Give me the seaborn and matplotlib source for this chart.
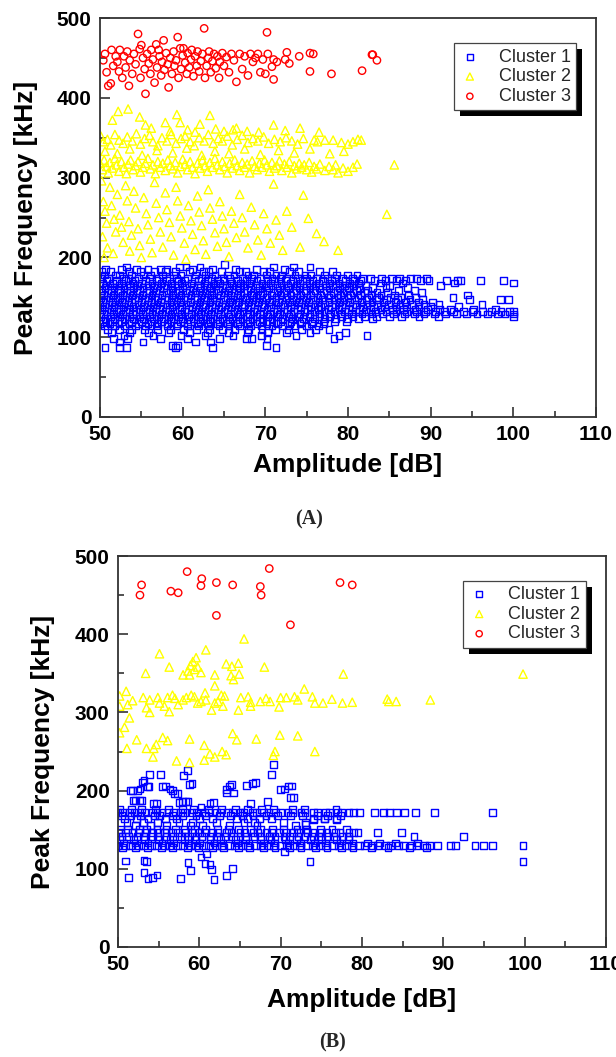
import matplotlib
matplotlib.use("Agg")
import matplotlib.pyplot as plt
import pandas as pd
import seaborn as sns
from matplotlib.patches import Rectangle
from matplotlib.ticker import MultipleLocator

# ---------------------------------------------------------------- data
CLUSTERS = ["Cluster 1", "Cluster 2", "Cluster 3"]
X_TICKS = [50, 60, 70, 80, 90, 100, 110]
Y_TICKS = [0, 100, 200, 300, 400, 500]
PANEL_LABELS = ["(A)", "(B)"]

# Panel A, cluster 1: (peak frequency kHz, [amplitudes dB])
A_C1_ROWS = [
    (191, [65.1]),
    (188, [53.2, 59.6, 60.4, 62.1, 71.0, 73.4, 75.4]),
    (185, [50.7, 52.6, 54.4, 55.8, 57.3, 58.1, 61.2, 63.6, 66.4, 68.9, 72.3]),
    (182, [50.2, 51.3, 53.5, 54.9, 56.6, 57.9, 59.1, 60.8, 62.5, 63.1, 64.7, 66.9, 67.6, 69.8, 70.5, 72.9, 74.0, 76.6, 78.1]),
    (178, [50.5, 51.9, 52.4, 53.8, 55.3, 56.1, 57.6, 58.9, 59.8, 61.6, 62.8, 63.9, 65.4, 66.2, 67.9, 68.6, 70.1, 71.3, 72.0, 73.6, 74.8, 75.5, 77.2, 78.6, 79.9, 81.1]),
    (174, [50.1, 51.0, 52.8, 53.4, 54.7, 56.0, 57.1, 58.4, 59.3, 60.6, 61.4, 62.3, 63.5, 64.9, 65.7, 67.2, 68.3, 69.4, 70.8, 71.8, 72.6, 73.9, 75.0, 76.2, 77.5, 78.4, 79.3, 80.5, 81.8, 82.7, 84.1, 85.3, 86.2, 87.6, 88.3, 89.5]),
    (171, [50.8, 52.0, 53.1, 54.2, 55.5, 56.8, 58.0, 59.5, 60.2, 61.9, 63.0, 64.2, 65.0, 66.6, 67.7, 69.0, 70.3, 71.1, 72.4, 73.3, 74.5, 75.7, 76.9, 78.0, 79.7, 80.8, 81.5, 83.2, 84.5, 85.9, 87.0, 88.8, 89.8, 91.9, 93.2, 93.6, 96.0, 98.8]),
    (168, [50.3, 51.5, 52.6, 54.0, 55.0, 56.3, 57.4, 58.6, 59.9, 61.1, 62.6, 63.8, 64.5, 65.9, 67.0, 68.1, 69.6, 70.6, 71.9, 73.0, 74.2, 75.3, 76.4, 77.8, 78.9, 80.2, 81.3, 83.9, 86.6, 92.9, 100.0]),
    (165, [50.0, 51.2, 52.3, 53.6, 54.5, 55.8, 57.0, 58.2, 59.4, 60.5, 61.8, 62.9, 64.0, 65.3, 66.5, 67.5, 68.8, 70.0, 71.4, 72.7, 73.8, 75.0, 76.1, 77.3, 78.5, 79.6, 80.7, 82.1, 85.0, 91.2]),
    (162, [50.6, 51.7, 52.9, 54.1, 55.2, 56.5, 57.7, 58.7, 60.0, 61.3, 62.2, 63.4, 64.8, 65.6, 66.9, 68.2, 69.3, 70.4, 71.7, 72.8, 74.1, 75.4, 76.6, 77.7, 79.0, 80.1, 81.4, 83.0, 84.6, 87.2]),
    (159, [50.2, 51.4, 52.5, 53.7, 54.8, 56.0, 57.2, 58.5, 59.6, 60.8, 62.0, 63.2, 64.3, 65.5, 66.7, 67.8, 69.1, 70.2, 71.5, 72.5, 73.7, 74.9, 76.0, 77.4, 78.7, 79.8, 81.0, 82.4, 86.1, 88.0]),
    (156, [50.9, 52.1, 53.2, 54.4, 55.6, 56.7, 58.0, 59.1, 60.3, 61.6, 62.7, 63.7, 65.1, 66.2, 67.4, 68.5, 69.7, 71.0, 72.2, 73.4, 74.6, 75.8, 77.0, 78.2, 79.4, 80.6, 82.0, 83.5, 84.8, 88.9]),
    (153, [50.4, 51.6, 52.7, 53.9, 55.1, 56.3, 57.5, 58.8, 59.8, 61.0, 62.3, 63.5, 64.6, 65.8, 67.0, 68.3, 69.4, 70.7, 71.9, 73.1, 74.3, 75.5, 76.7, 77.9, 79.1, 80.3, 81.5, 82.8, 84.0, 85.6, 87.3, 94.5]),
    (150, [50.1, 51.3, 52.4, 53.5, 54.7, 55.9, 57.0, 58.3, 59.5, 60.6, 61.8, 63.0, 64.1, 65.4, 66.6, 67.7, 68.9, 70.1, 71.3, 72.6, 73.8, 75.0, 76.3, 77.6, 78.8, 80.0, 81.2, 82.5, 83.7, 85.1, 86.4, 88.2, 92.7]),
    (147, [50.7, 51.9, 53.0, 54.2, 55.4, 56.6, 57.8, 58.9, 60.1, 61.4, 62.5, 63.6, 64.9, 66.0, 67.2, 68.4, 69.6, 70.8, 72.0, 73.3, 74.5, 75.7, 76.9, 78.3, 79.5, 80.8, 82.2, 83.4, 84.7, 86.0, 87.5, 89.0, 94.7, 98.4, 99.4]),
    (144, [50.3, 51.5, 52.6, 53.8, 55.0, 56.2, 57.3, 58.6, 59.7, 60.9, 62.1, 63.3, 64.4, 65.7, 66.8, 68.0, 69.2, 70.5, 71.6, 72.9, 74.0, 75.2, 76.5, 77.7, 79.0, 80.2, 81.6, 82.9, 84.3, 85.7, 87.0, 88.5, 90.2]),
    (141, [50.0, 51.1, 52.2, 53.4, 54.6, 55.7, 56.9, 58.1, 59.2, 60.4, 61.7, 62.8, 64.0, 65.2, 66.4, 67.5, 68.7, 69.9, 71.2, 72.3, 73.5, 74.8, 76.0, 77.2, 78.5, 79.7, 81.0, 82.3, 83.6, 84.9, 86.3, 87.7, 89.2, 91.0, 96.2]),
    (138, [50.5, 51.7, 52.8, 54.0, 55.3, 56.4, 57.6, 58.7, 59.9, 61.2, 62.4, 63.5, 64.7, 65.9, 67.1, 68.2, 69.5, 70.6, 71.8, 73.0, 74.3, 75.5, 76.7, 78.0, 79.2, 80.5, 81.8, 83.1, 84.4, 85.8, 87.1, 88.6, 90.0, 93.4]),
    (135, [50.2, 51.4, 52.5, 53.6, 54.9, 56.0, 57.2, 58.4, 59.6, 60.7, 61.9, 63.1, 64.3, 65.4, 66.6, 67.9, 69.0, 70.2, 71.5, 72.7, 73.9, 75.1, 76.4, 77.6, 78.9, 80.1, 81.4, 82.7, 84.0, 85.4, 86.7, 88.1, 89.6, 91.1, 92.4, 95.2, 97.8]),
    (132, [50.8, 52.0, 53.1, 54.3, 55.5, 56.7, 57.9, 59.0, 60.2, 61.5, 62.6, 63.8, 65.0, 66.2, 67.3, 68.6, 69.8, 71.0, 72.2, 73.4, 74.7, 75.9, 77.1, 78.4, 79.6, 80.9, 82.1, 83.3, 84.6, 85.8, 87.1, 88.3, 89.4, 90.6, 91.7, 92.8, 94.0, 95.1, 96.3, 97.4, 98.5, 99.5, 100.0]),
    (129, [50.4, 51.6, 52.7, 53.9, 55.1, 56.3, 57.4, 58.6, 59.8, 61.0, 62.2, 63.4, 64.6, 65.8, 66.9, 68.1, 69.3, 70.5, 71.7, 73.0, 74.2, 75.4, 76.6, 77.9, 79.1, 80.4, 81.7, 82.9, 84.2, 85.5, 86.8, 88.0, 89.2, 90.5, 91.8, 93.1, 94.3, 95.6, 96.9, 98.1, 99.0, 100.0]),
    (126, [50.1, 51.3, 52.4, 53.6, 54.8, 56.0, 57.1, 58.3, 59.5, 60.7, 61.9, 63.0, 64.2, 65.5, 66.7, 67.8, 69.0, 70.3, 71.5, 72.8, 74.0, 75.3, 76.5, 77.8, 79.2, 80.6, 82.0, 83.4, 85.0, 86.5, 88.6, 90.9, 100.0]),
    (123, [50.6, 51.8, 53.0, 54.1, 55.3, 56.5, 57.7, 58.9, 60.0, 61.3, 62.4, 63.6, 64.8, 66.0, 67.2, 68.4, 69.6, 70.8, 72.1, 73.3, 74.6, 75.9, 77.2, 78.5, 79.9, 81.3, 83.0]),
    (120, [50.3, 51.5, 52.6, 53.8, 55.0, 56.2, 57.4, 58.6, 59.7, 60.9, 62.1, 63.3, 64.5, 65.7, 66.9, 68.1, 69.3, 70.5, 71.8, 73.1, 74.4, 75.7, 77.1, 78.4, 79.8]),
    (117, [50.0, 51.2, 52.3, 53.5, 54.7, 55.8, 57.0, 58.2, 59.4, 60.6, 61.8, 63.0, 64.2, 65.4, 66.6, 67.8, 69.0, 70.2, 71.5, 72.9, 74.2, 75.6, 77.0]),
    (114, [50.5, 51.8, 53.0, 54.3, 55.5, 56.8, 58.1, 59.3, 60.6, 61.9, 63.1, 64.4, 65.6, 66.9, 68.2, 69.5, 70.8, 72.1, 73.5, 75.0, 76.4]),
    (110, [50.9, 52.4, 53.8, 55.4, 57.0, 58.5, 60.1, 61.7, 63.2, 64.8, 66.3, 68.0, 69.6, 71.2, 72.8, 74.4, 76.1, 77.7]),
    (106, [51.4, 53.6, 55.9, 58.3, 60.8, 63.0, 65.5, 67.8, 70.3, 72.6, 75.4, 79.7]),
    (102, [52.9, 56.4, 59.8, 62.7, 66.1, 69.5, 73.7, 78.9, 82.3]),
    (98, [51.6, 53.3, 57.3, 60.6, 64.5, 67.7, 68.3, 70.2, 78.3]),
    (94, [52.4, 55.2, 61.6, 63.4]),
    (90, [58.8, 59.4, 70.1]),
    (87, [50.6, 52.4, 53.2, 59.1, 63.6, 71.3]),
]

# Panel A, cluster 2: (amplitude dB, peak frequency kHz)
A_C2 = [
    (51.5, 372), (52.2, 383), (53.4, 386), (54.8, 376), (55.5, 366), (56.2, 362), (57.9, 369), (58.5, 358),
    (59.3, 379), (59.7, 369), (60.6, 360), (61.5, 357), (62.1, 367), (63.3, 378), (64.0, 361), (65.0, 358),
    (66.1, 360), (66.5, 362), (67.8, 358), (69.2, 357), (71.0, 366), (72.4, 359), (74.2, 362), (76.5, 357),
    (50.1, 352), (50.4, 345), (50.9, 348), (51.3, 341), (51.8, 354), (52.3, 347), (52.8, 343), (53.3, 351),
    (53.9, 346), (54.4, 355), (54.9, 342), (55.4, 349), (56.0, 353), (56.4, 345), (57.0, 340), (57.5, 350),
    (58.1, 346), (58.6, 354), (59.2, 343), (59.8, 349), (60.3, 352), (60.9, 345), (61.4, 340), (62.0, 350),
    (62.6, 346), (63.1, 354), (63.7, 343), (64.3, 349), (64.8, 346), (65.4, 352), (66.0, 341), (66.6, 348),
    (67.2, 353), (67.9, 344), (68.5, 349), (69.1, 346), (69.8, 351), (70.4, 343), (71.1, 348), (71.8, 345),
    (72.5, 350), (73.2, 346), (73.9, 342), (74.6, 349), (75.9, 347), (76.3, 345), (77.2, 347), (78.2, 347),
    (79.2, 344), (80.0, 342), (80.6, 345), (81.2, 348), (81.6, 347),
    (50.6, 333), (52.1, 330), (53.6, 336), (55.1, 328), (56.9, 334), (58.8, 331), (60.5, 337), (62.3, 328),
    (63.9, 333), (65.6, 330), (67.5, 336), (69.4, 329), (71.6, 334), (73.5, 331), (75.4, 336), (77.8, 330),
    (79.5, 333),
    (50.0, 318), (50.3, 310), (50.5, 322), (50.8, 314), (51.0, 306), (51.2, 319), (51.5, 312), (51.8, 324),
    (52.0, 316), (52.3, 308), (52.6, 320), (52.9, 313), (53.2, 305), (53.4, 317), (53.7, 322), (54.0, 310),
    (54.3, 315), (54.6, 320), (54.9, 307), (55.2, 313), (55.5, 318), (55.8, 324), (56.1, 311), (56.4, 316),
    (56.7, 305), (57.0, 320), (57.3, 313), (57.6, 318), (57.9, 309), (58.2, 322), (58.5, 315), (58.8, 311),
    (59.1, 319), (59.4, 306), (59.7, 314), (60.0, 323), (60.3, 317), (60.6, 310), (60.9, 320), (61.2, 313),
    (61.5, 305), (61.8, 318), (62.1, 312), (62.4, 322), (62.7, 315), (63.0, 308), (63.3, 319), (63.6, 313),
    (63.9, 324), (64.2, 316), (64.5, 310), (64.8, 320), (65.1, 314), (65.4, 306), (65.7, 318), (66.0, 312),
    (66.3, 322), (66.6, 315), (66.9, 309), (67.2, 319), (67.5, 313), (67.8, 317), (68.1, 306), (68.4, 321),
    (68.7, 314), (69.0, 310), (69.3, 318), (69.6, 313), (69.9, 322), (70.2, 316), (70.5, 308), (70.8, 319),
    (71.1, 312), (71.4, 315), (71.7, 321), (72.0, 309), (72.3, 317), (72.6, 313), (72.9, 320), (73.2, 306),
    (73.5, 315), (73.8, 311), (74.1, 318), (74.4, 313), (74.7, 316), (75.0, 310), (75.3, 319), (75.6, 307),
    (75.9, 314), (76.2, 311), (76.6, 317), (77.2, 309), (77.7, 314), (78.2, 310), (78.5, 316), (78.8, 306),
    (79.4, 312), (80.0, 308), (80.6, 313), (81.1, 317), (85.6, 316),
    (50.2, 296), (50.4, 270), (50.6, 258), (50.8, 243), (50.3, 226), (50.9, 212), (50.5, 200), (51.2, 288),
    (51.4, 265), (51.7, 248), (51.9, 232), (51.6, 205), (52.1, 279), (52.4, 253), (52.6, 238), (52.8, 219),
    (53.1, 290), (53.3, 271), (53.5, 245), (53.8, 228), (53.6, 208), (54.1, 283), (54.3, 262), (54.6, 236),
    (54.8, 215), (55.0, 200), (55.3, 275), (55.6, 255), (55.8, 241), (56.1, 223), (56.3, 206), (56.6, 294),
    (56.8, 268), (57.1, 250), (57.3, 232), (57.6, 213), (57.9, 281), (58.1, 260), (58.4, 244), (58.6, 226),
    (58.9, 203), (59.2, 288), (59.4, 271), (59.7, 252), (59.9, 237), (60.2, 218), (60.4, 198), (60.7, 265),
    (61.0, 246), (61.2, 229), (61.5, 210), (61.8, 277), (62.0, 257), (62.3, 240), (62.5, 221), (62.8, 204),
    (63.1, 285), (63.3, 262), (63.6, 248), (63.9, 231), (64.2, 214), (64.5, 270), (64.8, 252), (65.0, 236),
    (65.3, 219), (65.6, 201), (65.9, 258), (66.2, 243), (66.5, 225), (66.9, 279), (67.2, 250), (67.5, 232),
    (67.9, 212), (68.3, 263), (68.7, 241), (69.1, 222), (69.5, 203), (69.8, 255), (70.2, 236), (70.6, 218),
    (71.0, 292), (71.3, 247), (71.7, 228), (72.1, 209), (72.6, 258), (73.2, 238), (74.2, 213), (74.6, 278),
    (75.2, 249), (76.2, 230), (77.1, 220), (78.8, 209), (84.7, 254),
]

# Panel A, cluster 3: (amplitude dB, peak frequency kHz)
A_C3 = [
    (50.4, 447), (50.6, 455), (50.8, 432), (51.0, 415), (51.3, 418), (51.4, 460), (51.6, 440), (51.9, 452),
    (52.1, 445), (52.3, 433), (52.4, 460), (52.7, 425), (52.9, 452), (53.1, 438), (53.3, 458), (53.5, 415),
    (53.6, 447), (53.9, 430), (54.1, 455), (54.3, 442), (54.6, 480), (54.8, 461), (54.9, 425), (55.0, 466),
    (55.2, 450), (55.4, 436), (55.5, 405), (55.7, 455), (55.9, 443), (56.1, 430), (56.2, 460), (56.4, 448),
    (56.6, 419), (56.8, 467), (56.9, 438), (57.1, 460), (57.2, 452), (57.4, 428), (57.5, 445), (57.7, 472),
    (57.8, 435), (58.0, 456), (58.2, 442), (58.3, 413), (58.5, 450), (58.7, 430), (58.9, 458), (59.0, 440),
    (59.2, 447), (59.4, 476), (59.5, 425), (59.7, 462), (59.8, 436), (60.0, 453), (60.1, 462), (60.3, 444),
    (60.5, 430), (60.6, 456), (60.8, 438), (61.0, 448), (61.1, 460), (61.3, 427), (61.5, 452), (61.7, 440),
    (61.8, 458), (62.0, 433), (62.2, 446), (62.4, 455), (62.6, 487), (62.7, 425), (62.9, 440), (63.1, 450),
    (63.2, 458), (63.4, 432), (63.6, 446), (63.8, 455), (64.0, 437), (64.2, 452), (64.4, 425), (64.5, 445),
    (64.8, 456), (65.0, 440), (65.3, 451), (65.6, 432), (65.9, 455), (66.2, 447), (66.5, 420), (66.9, 455),
    (67.2, 436), (67.5, 452), (67.9, 428), (68.2, 455), (68.5, 445), (68.8, 450), (69.1, 455), (69.4, 432),
    (69.7, 448), (70.0, 430), (70.2, 482), (70.3, 455), (70.8, 439), (71.0, 448), (71.0, 423), (71.4, 445),
    (72.4, 448), (72.6, 457), (72.9, 443), (74.1, 452), (75.4, 456), (75.8, 455), (75.4, 433), (78.0, 430),
    (81.7, 434), (82.9, 454), (83.0, 454), (83.5, 447),
]

# Panel B, cluster 1: dense rows (peak frequency kHz, [amplitudes dB])
B_C1_ROWS = [
    (176, [50.2, 51.7, 52.9, 54.6, 56.2, 57.9, 59.3, 61.1, 62.7, 64.4, 65.9, 67.6, 69.1, 71.5, 72.9, 76.8]),
    (172, [50.0, 50.6, 51.4, 52.0, 52.7, 53.3, 54.2, 54.8, 55.4, 56.2, 56.8, 57.7, 58.2, 59.1, 59.7, 60.6, 61.1,
           62.1, 62.6, 63.5, 64.1, 65.0, 65.5, 66.5, 67.0, 67.9, 68.5, 69.4, 70.0, 70.9, 71.5, 72.5, 73.0, 74.0,
           74.5, 75.5, 76.0, 77.0, 77.5, 78.4, 79.0, 79.7, 81.5, 82.6, 83.4, 84.2, 85.2, 86.6, 88.9, 96.0]),
    (168, [50.4, 51.6, 52.8, 54.5, 55.1, 56.7, 57.9, 59.6, 60.8, 62.5, 63.8, 65.3, 66.6, 68.2, 69.6, 71.2, 72.7, 74.5, 75.8, 77.4]),
    (164, [50.8, 52.3, 53.7, 55.8, 57.2, 60.0, 61.6, 64.6, 65.9, 67.4, 68.9, 74.0, 75.4, 76.9]),
    (159, [51.1, 53.1, 54.9, 57.5, 59.2, 62.1, 65.5, 66.8, 70.3, 73.1]),
    (155, [52.2, 54.0, 56.0, 58.9, 60.4, 63.7, 67.1, 71.8]),
    (150, [50.3, 51.2, 52.6, 53.5, 54.8, 55.9, 57.1, 58.2, 59.4, 60.8, 62.2, 63.6, 64.8, 66.3, 67.5, 69.0, 70.3,
           72.0, 73.2, 74.9, 76.3, 78.1]),
    (146, [50.1, 50.9, 51.8, 52.5, 53.4, 54.1, 55.1, 55.7, 56.7, 57.3, 58.3, 59.0, 60.0, 60.6, 61.6, 62.3, 63.3,
           63.9, 65.0, 65.6, 66.6, 67.2, 68.3, 68.9, 69.9, 70.6, 71.6, 72.2, 73.3, 73.9, 75.0, 75.6, 76.7, 77.3,
           78.4, 79.0, 79.5, 81.9, 84.9]),
    (141, [50.5, 51.3, 52.4, 53.1, 54.2, 54.9, 56.0, 56.7, 57.8, 58.5, 59.6, 60.3, 61.4, 62.1, 63.2, 63.9, 65.0,
           65.7, 66.8, 67.5, 68.6, 69.3, 70.4, 71.1, 72.2, 72.9, 74.0, 74.7, 75.8, 76.5, 77.6, 78.3, 86.4, 92.5]),
    (137, [50.2, 51.9, 53.3, 55.0, 56.4, 58.2, 59.5, 61.3, 62.6, 64.4, 65.7, 67.5, 68.8, 70.6, 71.9, 73.7, 75.0, 76.9, 78.3]),
    (133, [50.7, 52.1, 53.7, 55.4, 56.8, 58.6, 60.0, 61.8, 62.9, 64.7, 66.1, 67.9, 69.2, 70.9, 72.4, 74.2, 75.5,
           77.3, 78.9, 80.7, 82.2, 84.1, 86.8]),
    (130, [50.0, 50.9, 51.5, 52.5, 53.1, 54.1, 54.7, 55.7, 56.3, 57.3, 57.9, 58.9, 59.5, 60.5, 61.1, 62.1, 62.7,
           63.7, 64.3, 65.3, 65.9, 66.9, 67.5, 68.5, 69.1, 70.1, 70.7, 71.7, 72.3, 73.3, 73.9, 74.9, 75.5, 76.5,
           77.1, 78.1, 78.7, 79.7, 80.3, 81.3, 81.9, 82.9, 83.5, 84.5, 85.1, 86.1, 86.7, 87.7, 88.3, 89.3, 90.9,
           91.5, 93.9, 94.9, 96.0, 99.8]),
    (127, [50.6, 52.2, 53.6, 55.3, 56.7, 58.5, 59.9, 61.6, 63.0, 64.8, 66.2, 67.9, 69.3, 71.1, 72.5, 74.3, 75.7,
           77.5, 78.9, 81.2, 83.2, 85.8, 87.9]),
]

# Panel B, cluster 1: scattered points (amplitude dB, peak frequency kHz)
B_C1_EXTRA = [
    (51.5, 200), (51.8, 200), (52.4, 200), (52.7, 202), (53.0, 211), (53.2, 213), (53.6, 205), (53.8, 205),
    (53.9, 221), (55.2, 221), (55.5, 205), (55.8, 206), (56.4, 202), (56.7, 200), (56.9, 196), (57.3, 196),
    (58.1, 219), (58.5, 226), (58.8, 208), (59.1, 209), (63.3, 201), (63.7, 206), (63.3, 197), (64.0, 208),
    (64.2, 197), (65.8, 207), (66.5, 209), (66.9, 210), (68.9, 221), (69.1, 233), (70.0, 201), (70.5, 202),
    (71.0, 206), (71.3, 206), (71.2, 191), (71.6, 191), (51.9, 187), (52.2, 187), (52.6, 187), (52.9, 187),
    (54.4, 183), (54.7, 183), (57.5, 185), (57.9, 186), (58.3, 186), (58.6, 186), (60.2, 179), (61.3, 184),
    (61.7, 185), (66.3, 183), (68.4, 186), (74.0, 163), (75.4, 164), (76.9, 163), (73.1, 157),
    (50.9, 110), (51.3, 89), (53.2, 111), (53.5, 109), (53.2, 95), (53.7, 88), (54.2, 89), (54.8, 92),
    (57.7, 88), (58.6, 108), (58.9, 98), (60.2, 115), (60.9, 119), (60.7, 107), (61.3, 105), (61.5, 99),
    (61.8, 86), (63.3, 91), (64.1, 100), (73.6, 109), (70.5, 122), (99.8, 109),
]

# Panel B, cluster 2: (amplitude dB, peak frequency kHz)
B_C2 = [
    (65.5, 394), (55.1, 375), (60.8, 380), (59.6, 370), (59.2, 365), (58.9, 360), (59.8, 358), (59.4, 355),
    (60.2, 351), (58.6, 353), (58.0, 348), (58.8, 348), (56.3, 358), (53.4, 350), (61.9, 348), (61.9, 334),
    (63.3, 362), (64.0, 359), (64.8, 363), (63.9, 347), (64.9, 349), (64.2, 342), (68.0, 358), (77.7, 349),
    (99.8, 349), (72.9, 330),
    (50.2, 321), (50.2, 308), (51.0, 327), (51.2, 310), (51.8, 315), (53.1, 319), (53.5, 306), (53.9, 300),
    (53.9, 316), (54.9, 319), (55.1, 312), (55.7, 308), (56.3, 301), (56.1, 319), (56.7, 322), (57.0, 318),
    (57.4, 310), (58.0, 316), (58.4, 319), (59.0, 322), (59.4, 320), (59.8, 312), (60.2, 314), (60.7, 325),
    (60.8, 316), (61.5, 303), (61.9, 312), (62.3, 314), (62.7, 322), (63.1, 321), (62.9, 308), (64.8, 303),
    (65.1, 319), (66.0, 320), (66.3, 308), (66.3, 313), (67.5, 314), (68.2, 318), (68.7, 314), (69.8, 307),
    (70.0, 319), (70.7, 319), (71.7, 320), (72.1, 316), (73.9, 320), (74.2, 312), (75.2, 312), (76.3, 317),
    (77.6, 312), (78.8, 313), (83.1, 317), (83.3, 314), (84.2, 314), (88.4, 316),
    (50.2, 274), (50.8, 281), (51.4, 293), (51.1, 254), (52.3, 265), (53.5, 254), (54.4, 254), (54.3, 243),
    (54.7, 259), (55.5, 268), (56.1, 264), (57.2, 238), (58.8, 236), (58.8, 266), (60.6, 258), (60.6, 239),
    (61.3, 247), (61.9, 243), (62.8, 250), (63.3, 246), (64.1, 273), (64.6, 265), (67.0, 266), (69.3, 250),
    (69.1, 245), (69.9, 271), (72.1, 270), (74.2, 250),
]

# Panel B, cluster 3: (amplitude dB, peak frequency kHz)
B_C3 = [
    (52.7, 450), (52.9, 463), (56.5, 455), (57.4, 453), (58.5, 480), (60.3, 471), (60.2, 462), (62.1, 466),
    (62.1, 424), (64.1, 463), (67.5, 461), (67.6, 450), (68.6, 484), (71.2, 412), (77.3, 466), (78.8, 463),
]

COLORS = {"Cluster 1": "#0000FF", "Cluster 2": "#FFFF00", "Cluster 3": "#FF0000"}
MARKERS = {"Cluster 1": "s", "Cluster 2": "^", "Cluster 3": "o"}
SIZES = {"Cluster 1": 24, "Cluster 2": 36, "Cluster 3": 28}


def rows_frame(rows, extra=()):
    recs = [(a, f) for f, amps in rows for a in amps] + list(extra)
    return pd.DataFrame(recs, columns=["amp", "freq"])


def pts_frame(pts):
    return pd.DataFrame(pts, columns=["amp", "freq"])


panel_a = [rows_frame(A_C1_ROWS), pts_frame(A_C2), pts_frame(A_C3)]
panel_b = [rows_frame(B_C1_ROWS, B_C1_EXTRA), pts_frame(B_C2), pts_frame(B_C3)]

# ---------------------------------------------------------------- style
sns.set_theme(style="white")
plt.rcParams["font.family"] = ["Liberation Sans", "DejaVu Sans"]

W, H = 616, 1057
fig = plt.figure(figsize=(W / 100, H / 100), dpi=100)
fig.patch.set_facecolor("white")

axA = fig.add_axes([100 / W, 1 - 417 / H, 496 / W, 399 / H])
axB = fig.add_axes([118 / W, 1 - 947 / H, 488 / W, 391 / H])

SPINE = "#333333"


def draw_panel(ax, frames, legend_anchor, xlabel_y, ylabel_x):
    for df, name in zip(frames, CLUSTERS):
        sns.scatterplot(data=df, x="amp", y="freq", ax=ax, marker=MARKERS[name],
                        s=SIZES[name], color=COLORS[name], facecolor="none",
                        edgecolor=COLORS[name], linewidth=1.0, label=name,
                        legend=False, zorder=2)
    ax.set_xlim(50, 110)
    ax.set_ylim(0, 500)
    ax.set_xticks(X_TICKS)
    ax.set_xticklabels([str(t) for t in X_TICKS], fontweight="bold", fontsize=15)
    ax.set_yticks(Y_TICKS)
    ax.set_yticklabels([str(t) for t in Y_TICKS], fontweight="bold", fontsize=15)
    ax.xaxis.set_minor_locator(MultipleLocator(5))
    ax.yaxis.set_minor_locator(MultipleLocator(50))
    ax.tick_params(which="major", direction="in", length=7, width=1.2, color=SPINE,
                   pad=6, bottom=True, left=True, top=False, right=False, labelcolor="black")
    ax.tick_params(which="minor", direction="in", length=4, width=1.2, color=SPINE,
                   bottom=True, left=True, top=False, right=False)
    for sp in ax.spines.values():
        sp.set_visible(True)
        sp.set_color(SPINE)
        sp.set_linewidth(1.3)
    ax.set_xlabel("Amplitude [dB]", fontsize=19, fontweight="bold", color="black")
    ax.set_ylabel("Peak Frequency [kHz]", fontsize=19, fontweight="bold", color="black")
    ax.xaxis.set_label_coords(0.5, xlabel_y)
    ax.yaxis.set_label_coords(ylabel_x, 0.5)
    ax.set_facecolor("white")
    leg = ax.legend(loc="upper right", bbox_to_anchor=legend_anchor, borderaxespad=0,
                    frameon=True, fancybox=False, framealpha=1, edgecolor="#444444",
                    fontsize=13, handlelength=1.2, handletextpad=1.0,
                    labelspacing=0.15, borderpad=0.3, markerscale=0.85)
    leg.get_frame().set_linewidth(0.9)
    leg.set_zorder(6)
    return leg


legA = draw_panel(axA, panel_a, (0.96, 0.937), -0.09, -0.125)
legB = draw_panel(axB, panel_b, (0.958, 0.937), -0.105, -0.129)

fig.text(309 / W, 1 - 519 / H, PANEL_LABELS[0], ha="center", va="center",
         fontfamily="Liberation Serif", fontweight="bold", fontsize=14.5)
fig.text(332 / W, 1 - 1042 / H, PANEL_LABELS[1], ha="center", va="center",
         fontfamily="Liberation Serif", fontweight="bold", fontsize=14.5)

# solid black drop shadow behind each legend box
fig.canvas.draw()
for ax, leg in [(axA, legA), (axB, legB)]:
    bb = leg.get_frame().get_window_extent()
    inv = ax.transAxes.inverted()
    (x0, y0) = inv.transform((bb.x0 + 6, bb.y0 - 6))
    (x1, y1) = inv.transform((bb.x1 + 6, bb.y1 - 6))
    ax.add_patch(Rectangle((x0, y0), x1 - x0, y1 - y0, transform=ax.transAxes,
                           facecolor="black", edgecolor="none", zorder=5.5, clip_on=False))

fig.savefig("out.png", dpi=100, facecolor="white")
